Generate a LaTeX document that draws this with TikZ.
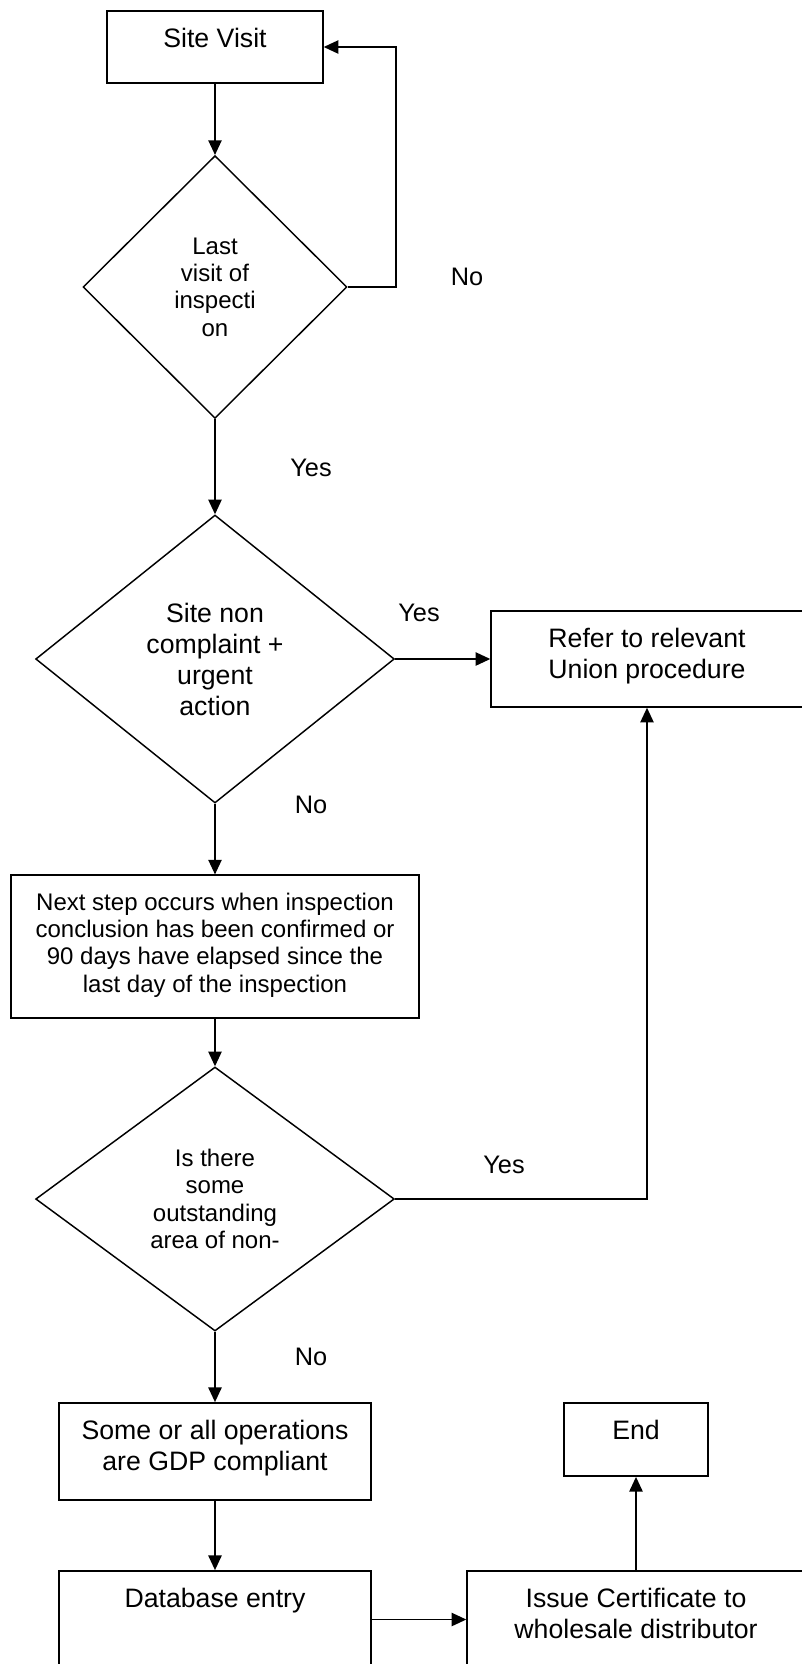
\documentclass[tikz,border=0pt]{standalone}
\usepackage{fontspec}
\setmainfont{Liberation Sans}
\usetikzlibrary{arrows.meta, shapes.geometric}

\begin{document}
\begin{tikzpicture}[x=0.75pt, y=-0.75pt, line width=1.1pt,
        box/.style={draw, rectangle, align=center, inner sep=0pt, font=\fontsize{20}{23.25}\selectfont},
        decision/.style={draw, diamond, align=center, inner sep=0pt, font=\fontsize{18}{20.5}\selectfont},
        lbl/.style={font=\fontsize{19}{22}\selectfont},
        arr/.style={-{Triangle[length=11pt, width=10pt]}}]
        \useasboundingbox (0, 0) rectangle (802, 1664);

        \node[box, minimum width=162pt, minimum height=54pt] (visit) at (215, 47) {Site Visit\rule[-13.8pt]{0pt}{13.8pt}};
        \node[decision, minimum width=198pt, minimum height=197pt] (last) at (215, 287) {Last\\visit of\\inspecti\\on};
        \node[decision, minimum width=269pt, minimum height=216pt, font=\fontsize{20}{23.25}\selectfont] (site) at (215, 659) {Site non\\complaint +\\urgent\\action};
        \node[box, minimum width=234pt, minimum height=72pt] (refer) at (647, 659) {Refer to relevant\\Union procedure\rule[-9pt]{0pt}{9pt}};
        \node[box, minimum width=306pt, minimum height=107pt, font=\fontsize{18}{20.5}\selectfont] (next) at (215, 946.5) {Next step occurs when inspection\\conclusion has been confirmed or\\90 days have elapsed since the\\last day of the inspection\rule[-6pt]{0pt}{6pt}};
        \node[decision, minimum width=269pt, minimum height=198pt] (outst) at (215, 1199) {Is there\\some\\outstanding\\area of non-};
        \node[box, minimum width=234pt, minimum height=73pt] (gdp) at (215, 1451.5) {Some or all operations\\are GDP compliant\rule[-9pt]{0pt}{9pt}};
        \node[box, minimum width=234pt, minimum height=73pt] (db) at (215, 1619.5) {Database entry\rule[-32pt]{0pt}{32pt}};
        \node[box, minimum width=253.5pt, minimum height=73pt] (issue) at (636, 1619.5) {Issue Certificate to\\wholesale distributor\rule[-9pt]{0pt}{9pt}};
        \node[box, minimum width=108pt, minimum height=55pt] (fin) at (636, 1439.5) {End\rule[-14.3pt]{0pt}{14.3pt}};

        \node[lbl] (no1) at (467, 277) {No};
        \node[lbl] (yes1) at (311, 468) {Yes};
        \node[lbl] (yes2) at (419, 613) {Yes};
        \node[lbl] (no2) at (311, 805) {No};
        \node[lbl] (yes3) at (504, 1165) {Yes};
        \node[lbl] (no3) at (311, 1357) {No};

        \coordinate (back) at (396, 287);

        \draw[arr] (visit.south) -- (last.north);
        \draw[arr] (last.east) -- (back) |- (visit.east);
        \draw[arr] (last.south) -- (site.north);
        \draw[arr] (site.east) -- (refer.west);
        \draw[arr] (site.south) -- (next.north);
        \draw[arr] (next.south) -- (outst.north);
        \draw[arr] (outst.east) -| (refer.south);
        \draw[arr] (outst.south) -- (gdp.north);
        \draw[arr] (gdp.south) -- (db.north);
        \draw[arr] (db.east) -- (issue.west);
        \draw[arr] (issue.north) -- (fin.south);
    \end{tikzpicture}
\end{document}
